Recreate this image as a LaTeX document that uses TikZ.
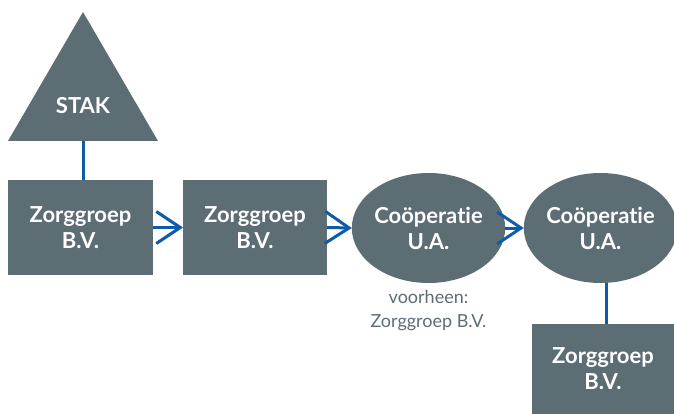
\documentclass[tikz,border=0pt]{standalone}
\usepackage{fontspec}
\setmainfont[Ligatures={NoCommon,NoRare,NoDiscretionary}]{Lato}
\usetikzlibrary{arrows.meta,shapes.geometric}
\definecolor{boxgray}{HTML}{5C6D73}
\definecolor{linkblue}{HTML}{0E5BA9}
\begin{document}
\begin{tikzpicture}[x=1pt,y=-1pt,
  lbl/.style={text=white,font=\fontsize{22}{26}\selectfont\bfseries,align=center},
  boxnode/.style={lbl,fill=boxgray,rectangle,inner sep=0pt,outer sep=0pt},
  ellnode/.style={lbl,fill=boxgray,ellipse,inner sep=0pt,outer sep=0pt},
  link/.style={draw=linkblue,line width=3pt},
  arrowlink/.style={link,-{Straight Barb[length=24pt,width=32pt,line width=3pt]}},
  note/.style={text=boxgray,font=\fontsize{18}{24}\selectfont,align=center}]
\useasboundingbox (0,0) rectangle (674,414);
% triangle
\fill[boxgray] (83,12) -- (158,141) -- (8,141) -- cycle;
\node[lbl] (stak) at (83,106) {STAK};
\coordinate (tribase) at (83,141);
% nodes
\node[boxnode,minimum width=145pt,minimum height=94pt] (box1) at (80.5,227.5) {Zorggroep\\B.V.};
\node[boxnode,minimum width=144pt,minimum height=94pt] (box2) at (255,227.5) {Zorggroep\\B.V.};
\node[ellnode,minimum width=151pt,minimum height=110pt] (ell1) at (428.5,228) {Coöperatie\\U.A.};
\node[ellnode,minimum width=147pt,minimum height=110pt] (ell2) at (600.5,228) {Coöperatie\\U.A.};
\node[boxnode,minimum width=142pt,minimum height=90pt] (box3) at (603,369) {Zorggroep\\B.V.};
\node[note] (prev) at (428.5,311) {voorheen:\\Zorggroep B.V.};
% connectors
\draw[link] (tribase) -- (tribase |- box1.north);
\draw[arrowlink] (box1.east) -- (box2.west);
\draw[arrowlink] (box2.east) -- (ell1.west);
\draw[arrowlink] (ell1.east) -- (ell2.west);
\coordinate (ell2foot) at (606,283);
\draw[link] (ell2foot) -- (ell2foot |- box3.north);
\end{tikzpicture}
\end{document}
